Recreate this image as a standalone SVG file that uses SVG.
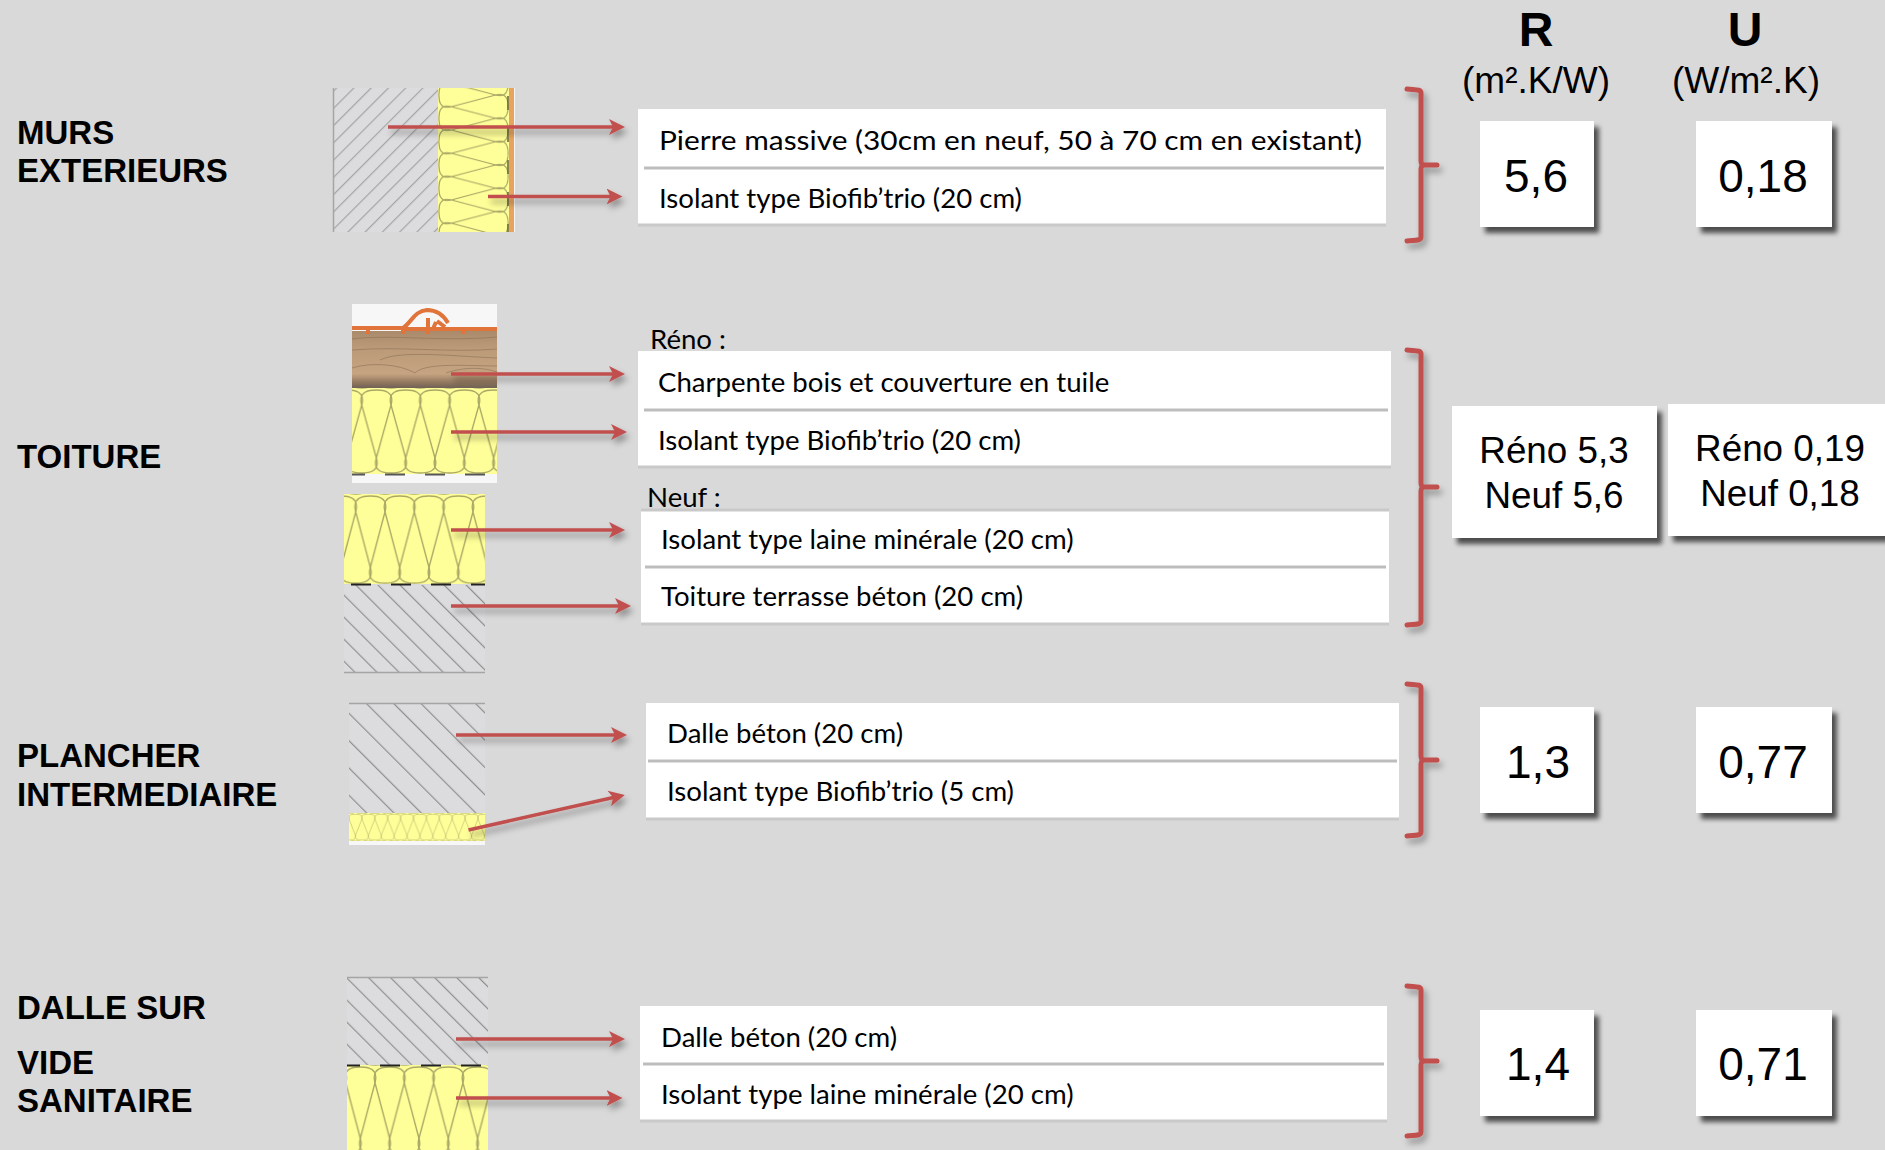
<svg xmlns="http://www.w3.org/2000/svg" xmlns:xlink="http://www.w3.org/1999/xlink" width="1885" height="1150" viewBox="0 0 1885 1150">
<style>
.lab{font:bold 33px "Liberation Sans",Arial,sans-serif;fill:#000}
.t{font:27.6px Lato,"Open Sans",sans-serif;fill:#000}
.v{font:46px "Liberation Sans",Arial,sans-serif;fill:#000;text-anchor:middle}
.v2{font:36.8px "Liberation Sans",Arial,sans-serif;fill:#000;text-anchor:middle}
.h{font:bold 48px "Liberation Sans",Arial,sans-serif;fill:#000;text-anchor:middle}
.u{font:37px "Liberation Sans",Arial,sans-serif;fill:#000;text-anchor:middle}
.box{fill:#fff}
.rowbox{fill:#fff;stroke:none}
.div{stroke:#bdbdbd;stroke-width:3;fill:none}
.edge{stroke:#c9c9c9;stroke-width:3;fill:none}
.arr{stroke:#c0504d;stroke-width:3.5;fill:none;marker-end:url(#head)}
.br{stroke:#c0504d;stroke-width:5;fill:none;stroke-linecap:round}
.conc{fill:#dcdcde}
.yel{fill:#ffff99}
.dash{stroke:#333;stroke-width:2;stroke-dasharray:20 20;fill:none}
.edgeg{stroke:#a5a5a5;stroke-width:1.5;fill:none}
</style>
<defs>
<marker id="head" markerUnits="userSpaceOnUse" markerWidth="18" markerHeight="18" refX="10" refY="9" orient="auto"><path d="M16 9L0 1L4 9L0 17Z" fill="#c0504d"/></marker>
<filter id="sh" filterUnits="userSpaceOnUse" x="0" y="0" width="1885" height="1150"><feDropShadow dx="3" dy="5" stdDeviation="3" flood-color="#000" flood-opacity=".35"/></filter>
<filter id="bs" filterUnits="userSpaceOnUse" x="0" y="0" width="1885" height="1150"><feDropShadow dx="5" dy="6" stdDeviation="2.5" flood-color="#000" flood-opacity=".65"/></filter>
<path id="w" d="M0 16C-4 2 8 1 15 1C22 1 34 2 30 16L15 69C11 83 23 84 30 84C37 84 49 83 45 69L30 16" fill="none" stroke="#a9a866" stroke-width="1.4"/>
<pattern id="ins" width="30" height="85" patternUnits="userSpaceOnUse">
<use href="#w" x="-30"/><use href="#w"/><use href="#w" x="30"/>
</pattern>
<pattern id="iRoof" href="#ins" patternTransform="translate(361.7 389) scale(.977 1)"/>
<pattern id="iNeuf" href="#ins" patternTransform="translate(355.7 495) scale(.977 1.05)"/>
<pattern id="iSlab" href="#ins" patternTransform="translate(375 1066) scale(.977 1.05)"/>
<pattern id="iFloor" href="#ins" patternTransform="translate(349 814) scale(.43 .31)"/>
<pattern id="iWall" href="#ins" patternTransform="matrix(0 .777 .835 0 438 106.7)"/>
<pattern id="hWall" width="12.2" height="12" patternUnits="userSpaceOnUse" patternTransform="translate(333 108) rotate(45)"><rect width="1.2" height="12" fill="#a4a4a4"/></pattern>
<pattern id="hNeuf" width="15.6" height="12" patternUnits="userSpaceOnUse" patternTransform="translate(355 585) rotate(-45)"><rect width="1.2" height="12" fill="#8f8f8f"/></pattern>
<pattern id="hFloor" width="19.3" height="12" patternUnits="userSpaceOnUse" patternTransform="translate(365 703) rotate(-45)"><rect width="1.2" height="12" fill="#8f8f8f"/></pattern>
<pattern id="hSlab" width="15.6" height="12" patternUnits="userSpaceOnUse" patternTransform="translate(367 977) rotate(-45)"><rect width="1.2" height="12" fill="#8f8f8f"/></pattern>
<linearGradient id="wood" x1="0" y1="0" x2="0" y2="1">
<stop offset="0" stop-color="#a98a6b"/><stop offset=".3" stop-color="#bb9a78"/><stop offset=".75" stop-color="#c6a481"/><stop offset=".92" stop-color="#8c735c"/><stop offset="1" stop-color="#6f6255"/>
</linearGradient>
</defs>
<rect id="background" width="1885" height="1150" fill="#d9d9d9"/>

<g id="labels">
<text class="lab" x="17" y="144">MURS</text>
<text class="lab" x="17" y="182">EXTERIEURS</text>
<text class="lab" x="17" y="468">TOITURE</text>
<text class="lab" x="17" y="767">PLANCHER</text>
<text class="lab" x="17" y="806">INTERMEDIAIRE</text>
<text class="lab" x="17" y="1019">DALLE SUR</text>
<text class="lab" x="17" y="1074">VIDE</text>
<text class="lab" x="17" y="1112">SANITAIRE</text>
</g>

<g id="headers">
<text class="h" x="1536" y="46">R</text>
<text class="h" x="1745" y="46">U</text>
<text class="u" x="1536" y="93">(m².K/W)</text>
<text class="u" x="1746" y="93">(W/m².K)</text>
</g>

<g id="section-wall">
<rect class="conc" x="333" y="88" width="105" height="144"/>
<rect x="333" y="88" width="105" height="144" fill="url(#hWall)"/>
<path class="edgeg" d="M333.5 88V232"/>
<rect class="yel" x="438" y="88" width="71" height="144"/>
<rect x="438" y="88" width="71" height="144" fill="url(#iWall)"/>
<rect x="509" y="88" width="5" height="144" fill="#e8a35f"/>
<rect x="514" y="88" width="1" height="144" fill="#f4f4f4"/>
<path d="M508 96V232" stroke="#6d6a3c" stroke-width="1.6" stroke-dasharray="14 18" fill="none"/>
</g>

<g id="section-roof-reno">
<rect x="352" y="304" width="145" height="179" fill="#f7f7f7"/>
<rect x="352" y="331" width="145" height="57" fill="url(#wood)"/>
<g fill="none" stroke="#8d7257" stroke-width=".9" opacity=".7">
<path d="M352 339C390 334 440 342 497 337M352 350C400 346 450 353 497 349M380 360C400 350 450 356 497 358M415 373C425 362 470 366 497 366M352 368C370 362 400 364 415 373M446 373C460 368 480 366 497 372"/>
</g>
<rect class="yel" x="352" y="388" width="145" height="86"/>
<rect x="352" y="388" width="145" height="86" fill="url(#iRoof)"/>
<path d="M352 474.500H365M385 474.500H405M425 474.500H445M465 474.500H485" stroke="#555" stroke-width="2"/>
<path d="M352 328H403C412 322 414 311 427 310C438 310 444 316 448 323M405 329H497" fill="none" stroke="#e0743a" stroke-width="4"/>
<path d="M428 331V318M436 322L432 331M445 327L437 321M368 328V334M403 328V334M428 328V334M463 328V334" fill="none" stroke="#e0743a" stroke-width="4"/>
</g>

<g id="section-roof-neuf">
<rect class="yel" x="344" y="494" width="141" height="90"/>
<rect x="344" y="494" width="141" height="90" fill="url(#iNeuf)"/>
<rect class="conc" x="344" y="585" width="141" height="88"/>
<rect x="344" y="585" width="141" height="88" fill="url(#hNeuf)"/>
<path d="M351 584.500H371M391 584.500H411M431 584.500H451M471 584.500H485" stroke="#222" stroke-width="2"/>
<path class="edgeg" d="M344 672.500H485"/>
</g>

<g id="section-floor">
<rect class="conc" x="349" y="703" width="136" height="110"/>
<rect x="349" y="703" width="136" height="110" fill="url(#hFloor)"/>
<path class="edgeg" d="M349 703.500H485"/>
<rect class="yel" x="349" y="813" width="136" height="28"/>
<rect x="349" y="813" width="136" height="28" fill="url(#iFloor)"/>
<rect x="349" y="841" width="136" height="4" fill="#f7f7f7"/>
</g>

<g id="section-slab">
<rect class="conc" x="347" y="977" width="141" height="88"/>
<rect x="347" y="977" width="141" height="88" fill="url(#hSlab)"/>
<path class="edgeg" d="M347 977.500H488"/>
<rect class="yel" x="347" y="1065" width="141" height="85"/>
<rect x="347" y="1065" width="141" height="85" fill="url(#iSlab)"/>
<path d="M347 1065.500H360M380 1065.500H400M421 1065.500H441M461 1065.500H481" stroke="#222" stroke-width="2"/>
</g>

<g id="heading-reno"><text class="t" x="650" y="349">Réno :</text></g>
<g id="heading-neuf"><text class="t" x="647" y="507">Neuf :</text></g>

<g id="layers-wall">
<rect class="rowbox" x="638" y="109" width="748" height="115"/>
<path class="edge" d="M638 225H1386"/><path class="div" d="M644 168H1384"/>
<text class="t" x="659" y="150" textLength="703" lengthAdjust="spacingAndGlyphs">Pierre massive (30cm en neuf, 50 à 70 cm en existant)</text>
<text class="t" x="659" y="208">Isolant type Biofib’trio (20 cm)</text>
</g>
<g id="layers-roof-reno">
<rect class="rowbox" x="638" y="351" width="753" height="115"/>
<path class="edge" d="M638 467H1391"/><path class="div" d="M644 410H1388"/>
<text class="t" x="658" y="392">Charpente bois et couverture en tuile</text>
<text class="t" x="658" y="450">Isolant type Biofib’trio (20 cm)</text>
</g>
<g id="layers-roof-neuf">
<rect class="rowbox" x="641" y="511" width="748" height="112"/>
<path class="edge" d="M641 510H1389M641 624H1389"/><path class="div" d="M645 567H1386"/>
<text class="t" x="661" y="549">Isolant type laine minérale (20 cm)</text>
<text class="t" x="661" y="606">Toiture terrasse béton (20 cm)</text>
</g>
<g id="layers-floor">
<rect class="rowbox" x="646" y="703" width="753" height="115"/>
<path class="edge" d="M646 819H1399"/><path class="div" d="M648 761H1397"/>
<text class="t" x="667" y="743">Dalle béton (20 cm)</text>
<text class="t" x="667" y="801">Isolant type Biofib’trio (5 cm)</text>
</g>
<g id="layers-slab">
<rect class="rowbox" x="640" y="1006" width="747" height="114"/>
<path class="edge" d="M640 1121H1387"/><path class="div" d="M643 1064H1384"/>
<text class="t" x="661" y="1047">Dalle béton (20 cm)</text>
<text class="t" x="661" y="1104">Isolant type laine minérale (20 cm)</text>
</g>

<g id="values-wall">
<rect class="box" x="1480" y="121" width="114" height="106" filter="url(#bs)"/>
<rect class="box" x="1696" y="121" width="136" height="106" filter="url(#bs)"/>
<text class="v" x="1536" y="192">5,6</text><text class="v" x="1763" y="192">0,18</text>
</g>
<g id="values-roof">
<rect class="box" x="1452" y="406" width="205" height="132" filter="url(#bs)"/>
<rect class="box" x="1668" y="404" width="230" height="132" filter="url(#bs)"/>
<text class="v2" x="1554" y="463">Réno 5,3</text><text class="v2" x="1554" y="508">Neuf 5,6</text>
<text class="v2" x="1780" y="461">Réno 0,19</text><text class="v2" x="1780" y="506">Neuf 0,18</text>
</g>
<g id="values-floor">
<rect class="box" x="1480" y="707" width="114" height="106" filter="url(#bs)"/>
<rect class="box" x="1696" y="707" width="136" height="106" filter="url(#bs)"/>
<text class="v" x="1538" y="778">1,3</text><text class="v" x="1763" y="778">0,77</text>
</g>
<g id="values-slab">
<rect class="box" x="1480" y="1010" width="114" height="106" filter="url(#bs)"/>
<rect class="box" x="1696" y="1010" width="136" height="106" filter="url(#bs)"/>
<text class="v" x="1538" y="1080">1,4</text><text class="v" x="1763" y="1080">0,71</text>
</g>

<g id="connectors" filter="url(#sh)">
<path class="arr" d="M388 127H619"/>
<path class="arr" d="M488 196.500H616.500"/>
<path class="arr" d="M451 374H619"/>
<path class="arr" d="M451 432H621"/>
<path class="arr" d="M451 530H619"/>
<path class="arr" d="M451 606H625"/>
<path class="arr" d="M456 735H621"/>
<path class="arr" d="M468.500 830L619 796.300"/>
<path class="arr" d="M456 1039H619"/>
<path class="arr" d="M456 1098H616.500"/>
<path class="br" d="M1407 89C1415 90 1421 89 1421 93V161C1421 164 1422 165 1425 165H1437M1425 165C1422 165 1421 166 1421 169V237C1421 241 1415 240 1407 241"/>
<path class="br" d="M1407 350C1415 351 1421 350 1421 354V483C1421 486 1422 487 1425 487H1437M1425 487C1422 487 1421 488 1421 491V621C1421 625 1415 624 1407 625"/>
<path class="br" d="M1407 684C1415 685 1421 684 1421 688V756C1421 759 1422 760 1425 760H1437M1425 760C1422 760 1421 761 1421 764V832C1421 836 1415 835 1407 836"/>
<path class="br" d="M1407 986C1415 987 1421 986 1421 990V1057C1421 1060 1422 1061 1425 1061H1437M1425 1061C1422 1061 1421 1062 1421 1065V1132C1421 1136 1415 1135 1407 1136"/>
</g>
</svg>
